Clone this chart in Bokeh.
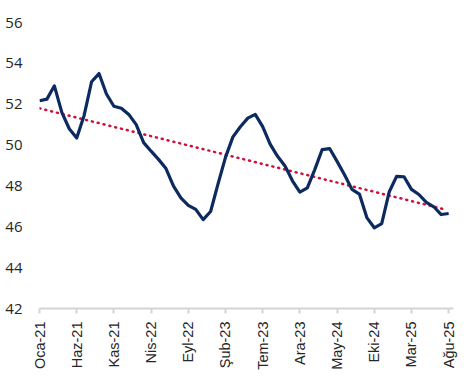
from bokeh.plotting import figure
from bokeh.models import FixedTicker, Range1d
from bokeh.embed import file_html
from bokeh.resources import INLINE

months = ["Oca-21", "Şub-21", "Mar-21", "Nis-21", "May-21", "Haz-21", "Tem-21", "Ağu-21", "Eyl-21", "Eki-21",
          "Kas-21", "Ara-21", "Oca-22", "Şub-22", "Mar-22", "Nis-22", "May-22", "Haz-22", "Tem-22", "Ağu-22",
          "Eyl-22", "Eki-22", "Kas-22", "Ara-22", "Oca-23", "Şub-23", "Mar-23", "Nis-23", "May-23", "Haz-23",
          "Tem-23", "Ağu-23", "Eyl-23", "Eki-23", "Kas-23", "Ara-23", "Oca-24", "Şub-24", "Mar-24", "Nis-24",
          "May-24", "Haz-24", "Tem-24", "Ağu-24", "Eyl-24", "Eki-24", "Kas-24", "Ara-24", "Oca-25", "Şub-25",
          "Mar-25", "Nis-25", "May-25", "Haz-25", "Tem-25", "Ağu-25"]

values = [52.17, 52.25, 52.9, 51.6, 50.8, 50.35, 51.45, 53.1, 53.5, 52.5,
          51.9, 51.8, 51.5, 51.0, 50.12, 49.7, 49.3, 48.85, 48.0, 47.42,
          47.05, 46.85, 46.35, 46.75, 48.1, 49.4, 50.4, 50.9, 51.32, 51.5,
          50.9, 50.05, 49.45, 48.98, 48.25, 47.7, 47.9, 48.8, 49.78, 49.83,
          49.2, 48.55, 47.83, 47.6, 46.45, 45.95, 46.15, 47.7, 48.47, 48.45,
          47.83, 47.58, 47.2, 46.98, 46.6, 46.65]

trend_x = [0, 54.5]
trend_y = [51.8, 46.85]

tick_positions = list(range(0, 56, 5))
x = list(range(len(values)))

p = figure(width=475, height=383, output_backend="svg", toolbar_location=None,
           x_range=Range1d(0, 55.65), y_range=Range1d(42, 56),
           min_border_left=39, min_border_right=22, min_border_top=22, min_border_bottom=75)
p.outline_line_color = None
p.xgrid.grid_line_color = None
p.ygrid.grid_line_color = None
p.background_fill_color = "white"
p.border_fill_color = "white"

p.line(trend_x, trend_y, line_color="#d0103a", line_width=2.5, line_dash="1 5", line_cap="round")
p.line(x, values, line_color="#0c2a5f", line_width=3.2, line_join="round")

p.xaxis.ticker = FixedTicker(ticks=tick_positions)
p.xaxis.major_label_overrides = {i: months[i] for i in tick_positions}
p.xaxis.major_label_orientation = 1.5708
p.xaxis.axis_line_color = "#d4d4d4"
p.xaxis.axis_line_width = 2
p.xaxis.major_tick_line_color = "#d4d4d4"
p.xaxis.major_tick_line_width = 2
p.xaxis.major_tick_out = 5
p.xaxis.major_tick_in = 0
p.xaxis.minor_tick_line_color = None
p.xaxis.major_label_standoff = 8
p.xaxis.major_label_text_font = "Liberation Sans"
p.xaxis.major_label_text_font_size = "14.5px"
p.xaxis.major_label_text_color = "#262626"

p.yaxis.ticker = FixedTicker(ticks=list(range(42, 57, 2)))
p.yaxis.axis_line_color = None
p.yaxis.major_tick_line_color = None
p.yaxis.major_tick_out = 0
p.yaxis.major_tick_in = 0
p.yaxis.minor_tick_line_color = None
p.yaxis.major_label_standoff = 17
p.yaxis.major_label_text_font = "Open Sans"
p.yaxis.major_label_text_font_size = "15px"
p.yaxis.major_label_text_color = "#262626"

open("out.html", "w").write(file_html(p, INLINE))
